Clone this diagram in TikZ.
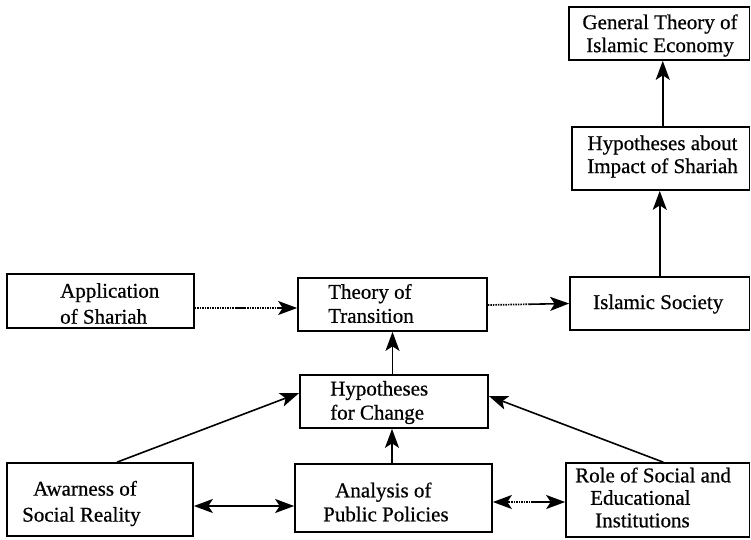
\documentclass[tikz,border=0pt]{standalone}
\usepackage{fontspec}
\setmainfont{Liberation Serif}[FakeBold=0.6]
\usetikzlibrary{arrows.meta,calc}
\begin{document}
\begin{tikzpicture}[x=1pt,y=-1pt,
  box/.style={draw, line width=1.7pt, inner sep=0pt},
  txt/.style={inner sep=0pt, font=\fontsize{21}{24}\selectfont, align=left},
  ctxt/.style={inner sep=0pt, font=\fontsize{21}{23}\selectfont, align=center},
  tip/.style={-{Stealth[length=19pt,width=14pt,inset=4.5pt]}},
  tips/.style={{Stealth[length=19pt,width=14pt,inset=4.5pt]}-{Stealth[length=19pt,width=14pt,inset=4.5pt]}},
  ln/.style={line width=1.6pt},
  dots/.style={line width=1.7pt, dash pattern=on 1.5pt off 1pt}]
\useasboundingbox (0,0) rectangle (751,539);

% boxes
\node[box, minimum width=187pt, minimum height=54pt] (app) at (100.5,301) {};
\node[box, minimum width=189pt, minimum height=53pt] (theory) at (392.5,304.5) {};
\node[box, minimum width=179.5pt, minimum height=53pt] (islamic) at (659.75,303.5) {};
\node[box, minimum width=180.5pt, minimum height=53pt] (general) at (659.25,33.5) {};
\node[box, minimum width=177.5pt, minimum height=63pt] (hypimp) at (660.75,158.5) {};
\node[box, minimum width=188pt, minimum height=53pt] (hypchg) at (394,401.5) {};
\node[box, minimum width=186pt, minimum height=73pt] (awar) at (100,499.5) {};
\node[box, minimum width=197pt, minimum height=68pt] (analysis) at (393.5,498) {};
\node[box, minimum width=183.5pt, minimum height=74pt] (role) at (657.75,500) {};

% texts
\node[txt, anchor=west] (appT) at (60,303.5) {Application\\[2pt]of Shariah};
\node[txt, anchor=west] (theoT) at (328,303.5) {Theory of\\Transition};
\node[txt, anchor=west] (isT) at (593,304) {Islamic Society};
\node[ctxt] (genT) at (660,35.5) {General Theory of\\Islamic Economy};
\node[ctxt] (impT) at (662.5,156.5) {Hypotheses about\\Impact of Shariah};
\node[txt, anchor=west] (chgT) at (330,402.5) {Hypotheses\\for Change};
\node[txt, anchor=west] (awT) at (22,503.5) {\hspace*{11pt}Awarness of\\[2pt]Social Reality};
\node[txt, anchor=west] (anT) at (323,502) {\hspace*{12pt}Analysis of\\Public Policies};
\node[inner sep=0pt, font=\fontsize{21}{22.5}\selectfont, align=left, anchor=west] (roT) at (575,497.5) {Role of Social and\\\hspace*{15pt}Educational\\\hspace*{20pt}Institutions};

% Application -> Theory (dotted with a solid piece)
\coordinate (a1) at ([yshift=-7pt]app.east);
\coordinate (a2) at ([yshift=-3.5pt]theory.west);
\draw[dots] (a1) -- ($(a1)!0.8!(a2)$);
\draw[ln] ($(a1)!0.4!(a2)$) -- ($(a1)!0.5!(a2)$);
\draw[ln, tip] ($(a1)!0.8!(a2)$) -- (a2);

% Theory -> Islamic Society
\coordinate (b1) at ([yshift=-0.5pt]theory.east);
\coordinate (b2) at (islamic.west);
\draw[dots] (b1) -- ($(b1)!0.5!(b2)$);
\draw[ln, tip] ($(b1)!0.5!(b2)$) -- (b2);

% Islamic -> Hyp impact -> General
\draw[ln, tip] (islamic.north) -- (islamic.north |- hypimp.south);
\draw[ln, tip] ([xshift=2pt]hypimp.north) -- ([xshift=2pt]hypimp.north |- general.south);

% Hyp for change -> Theory
\draw[ln, tip] (theory.south |- hypchg.north) -- (theory.south);
% Analysis -> Hyp for change
\draw[ln, tip] ([xshift=-1.5pt]analysis.north) -- ([xshift=-1.5pt]analysis.north |- hypchg.south);

% Awarness -> Hyp for change
\draw[ln, tip] ([xshift=17pt]awar.north) -- ([yshift=8.5pt]hypchg.west);
% Role -> Hyp for change
\draw[ln, tip] ([xshift=5.5pt]role.north) -- ([yshift=5.5pt]hypchg.east);

% Awarness <-> Analysis
\draw[ln, tips] ([yshift=-6.5pt]awar.east) -- ([yshift=-8pt]analysis.west);

% Analysis <-> Role (dotted, solid near the right)
\coordinate (c1) at ([yshift=-4pt]analysis.east);
\coordinate (c2) at ([yshift=-2pt]role.west);
\draw[ln, {Stealth[length=19pt,width=14pt,inset=4.5pt]}-] (c1) -- ($(c1)!0.22!(c2)$);
\draw[dots] ($(c1)!0.22!(c2)$) -- ($(c1)!0.55!(c2)$);
\draw[ln, tip] ($(c1)!0.55!(c2)$) -- (c2);
\end{tikzpicture}
\end{document}
